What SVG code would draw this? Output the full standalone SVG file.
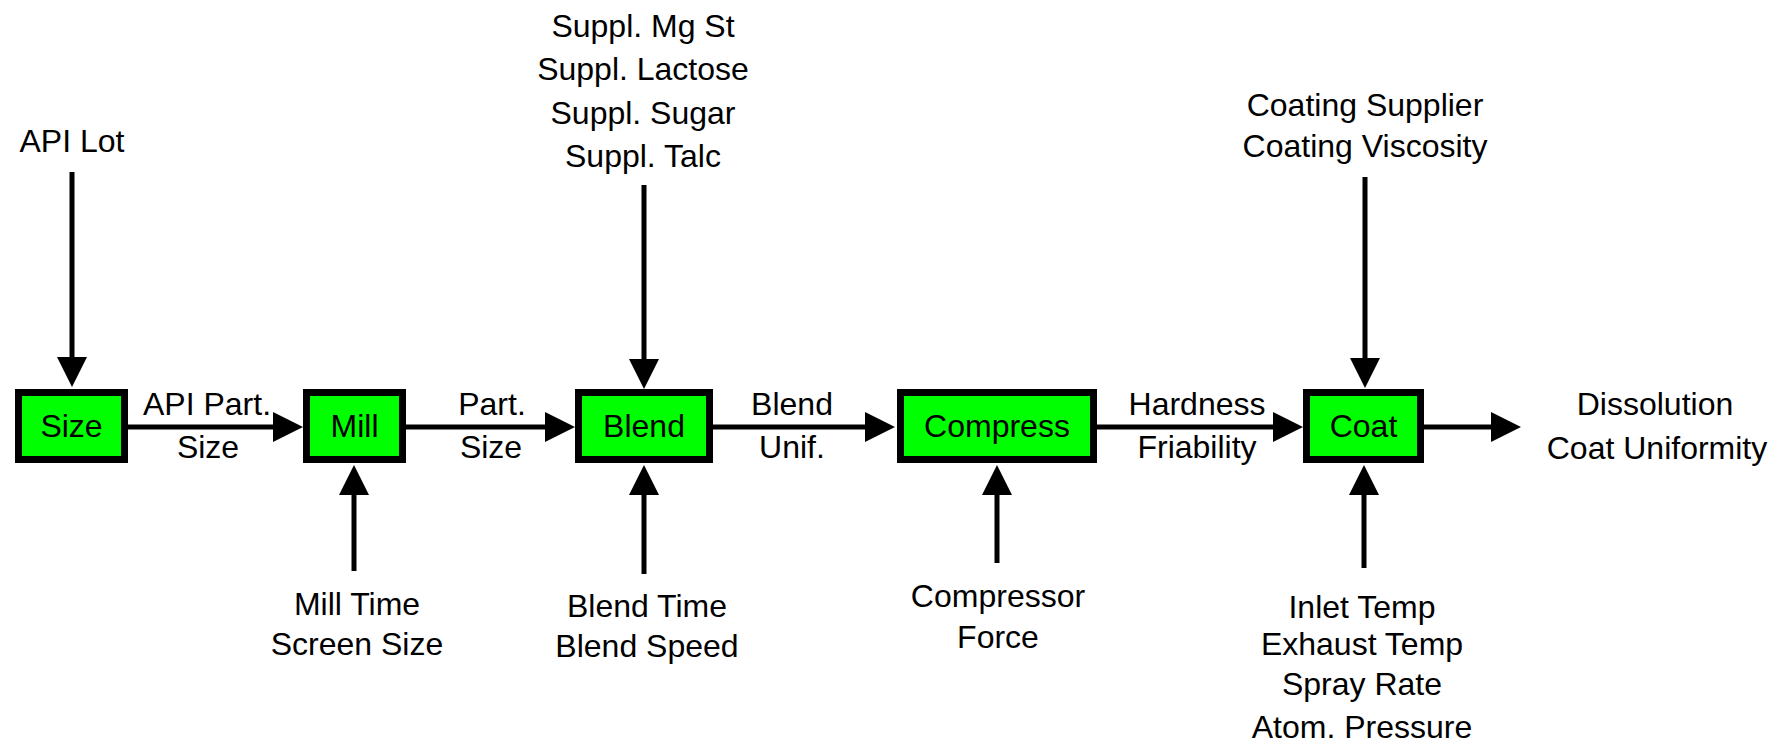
<svg xmlns="http://www.w3.org/2000/svg" width="1781" height="746" viewBox="0 0 1781 746">
<style>
.box{fill:#00FF00;stroke:#000;stroke-width:7}
.t{font-family:"Liberation Sans",Arial,sans-serif;font-size:32px;fill:#000;text-anchor:middle}
.c{stroke:#000;stroke-width:5;fill:none;marker-end:url(#ah)}
</style>
<defs>
<marker id="ah" markerUnits="userSpaceOnUse" markerWidth="30" markerHeight="30" viewBox="0 0 30 30" refX="15" refY="15" orient="auto">
<path d="M0,0 L30,15 L0,30 Z" fill="#000"/>
</marker>
</defs>
<rect width="1781" height="746" fill="#fff"/>
<g id="connectors">
<path class="c" d="M128,427 H288"/>
<path class="c" d="M406,427 H560"/>
<path class="c" d="M713,427 H880"/>
<path class="c" d="M1097,427 H1288"/>
<path class="c" d="M1424,427 H1506"/>
<path class="c" d="M72,172 V372"/>
<path class="c" d="M644,185 V374"/>
<path class="c" d="M1365,177 V373"/>
<path class="c" d="M354,571 V480"/>
<path class="c" d="M644,574 V480"/>
<path class="c" d="M997,563 V480"/>
<path class="c" d="M1364,568 V480"/>
</g>
<g id="node-size">
<rect class="box" x="18.5" y="392.5" width="106" height="67"/>
<text class="t" x="71.5" y="437">Size</text>
</g>
<g id="node-mill">
<rect class="box" x="306.5" y="392.5" width="96" height="67"/>
<text class="t" x="354.5" y="437">Mill</text>
</g>
<g id="node-blend">
<rect class="box" x="578.5" y="392.5" width="131" height="67"/>
<text class="t" x="644" y="437">Blend</text>
</g>
<g id="node-compress">
<rect class="box" x="900.5" y="392.5" width="193" height="67"/>
<text class="t" x="997" y="437">Compress</text>
</g>
<g id="node-coat">
<rect class="box" x="1306.5" y="392.5" width="114" height="67"/>
<text class="t" x="1363.5" y="437">Coat</text>
</g>
<g id="label-api-lot"><text class="t" x="72" y="152">API Lot</text></g>
<g id="label-api-part"><text class="t" x="207" y="415">API Part.</text><text class="t" x="208" y="458">Size</text></g>
<g id="label-part-size"><text class="t" x="492" y="415">Part.</text><text class="t" x="491" y="458">Size</text></g>
<g id="label-blend-unif"><text class="t" x="792" y="415">Blend</text><text class="t" x="792" y="458">Unif.</text></g>
<g id="label-hardness"><text class="t" x="1197" y="415">Hardness</text><text class="t" x="1197" y="458">Friability</text></g>
<g id="label-output"><text class="t" x="1655" y="415">Dissolution</text><text class="t" x="1657" y="459">Coat Uniformity</text></g>
<g id="label-suppl">
<text class="t" x="643" y="37">Suppl. Mg St</text>
<text class="t" x="643" y="80">Suppl. Lactose</text>
<text class="t" x="643" y="123.5">Suppl. Sugar</text>
<text class="t" x="643" y="167">Suppl. Talc</text>
</g>
<g id="label-coating">
<text class="t" x="1365" y="116">Coating Supplier</text>
<text class="t" x="1365" y="157">Coating Viscosity</text>
</g>
<g id="label-mill-params"><text class="t" x="357" y="615">Mill Time</text><text class="t" x="357" y="655">Screen Size</text></g>
<g id="label-blend-params"><text class="t" x="647" y="617">Blend Time</text><text class="t" x="647" y="657">Blend Speed</text></g>
<g id="label-compressor"><text class="t" x="998" y="607">Compressor</text><text class="t" x="998" y="648">Force</text></g>
<g id="label-coat-params">
<text class="t" x="1362" y="618">Inlet Temp</text>
<text class="t" x="1362" y="655">Exhaust Temp</text>
<text class="t" x="1362" y="695">Spray Rate</text>
<text class="t" x="1362" y="738">Atom. Pressure</text>
</g>
</svg>
